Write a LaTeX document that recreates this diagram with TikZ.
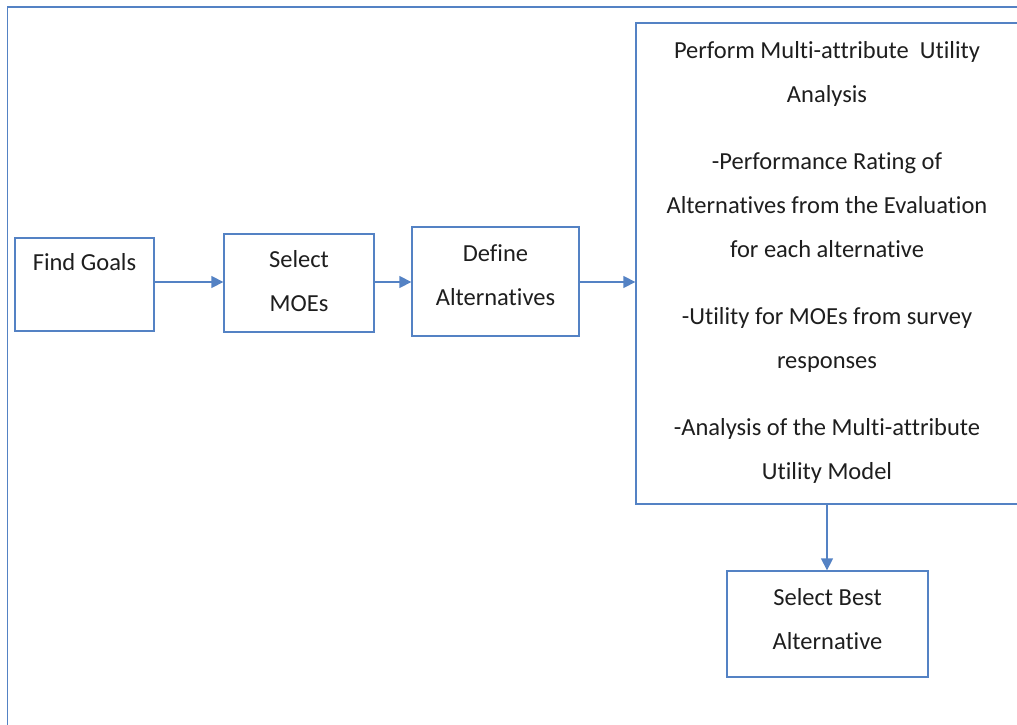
\documentclass[tikz,border=0pt]{standalone}
\usepackage{fontspec}
\setmainfont[Ligatures=NoCommon]{Carlito}
\usetikzlibrary{arrows.meta}
\definecolor{lineblue}{RGB}{84,130,196}
\definecolor{txt}{RGB}{30,30,30}
\newcommand\mydep[1]{\rule[-#1]{0pt}{0pt}}
\begin{document}
\begin{tikzpicture}[x=1pt,y=-1pt,
  box/.style={draw=lineblue, line width=1.3pt, fill=white, align=center, inner sep=0pt,
    text=txt, font=\fontsize{24.5}{44}\selectfont},
  arr/.style={draw=lineblue, line width=1.3pt, -{Triangle[length=12pt,width=12pt]}}]
\begin{scope}
\clip (0,0) rectangle (1017,725);
\draw[lineblue, line width=1.3pt] (1030,7) -- (7.5,7) -- (7.5,740);
\node[box, minimum width=139pt, minimum height=93pt] (find) at (84.5,284.5) {Find Goals\\\mbox{}\mydep{2pt}};
\node[box, minimum width=150pt, minimum height=98pt] (select) at (299,283) {Select\\MOEs\mydep{5pt}};
\node[box, minimum width=167pt, minimum height=109pt] (define) at (495.5,281.5) {Define\\Alternatives\mydep{12pt}};
\node[box, minimum width=382pt, minimum height=481pt] (mau) at (827,263.5) {Perform Multi-attribute\ \ Utility\\Analysis\\[23pt]
-Performance Rating of\\Alternatives from the Evaluation\\for each alternative\\[23pt]
-Utility for MOEs from survey\\responses\\[23pt]
-Analysis of the Multi-attribute\\Utility Model\mydep{6pt}};
\node[box, minimum width=201pt, minimum height=106pt] (best) at (827.5,624) {Select Best\\Alternative\mydep{10pt}};
\draw[arr] (find.east |- 0,282) -- (select.west |- 0,282);
\draw[arr] (select.east |- 0,282) -- (define.west |- 0,282);
\draw[arr] (define.east |- 0,282) -- (mau.west |- 0,282);
\draw[arr] (mau.south) -- (best.north -| mau.south);
\end{scope}
\pgfresetboundingbox
\useasboundingbox (0,0) rectangle (1017,725);
\end{tikzpicture}
\end{document}
